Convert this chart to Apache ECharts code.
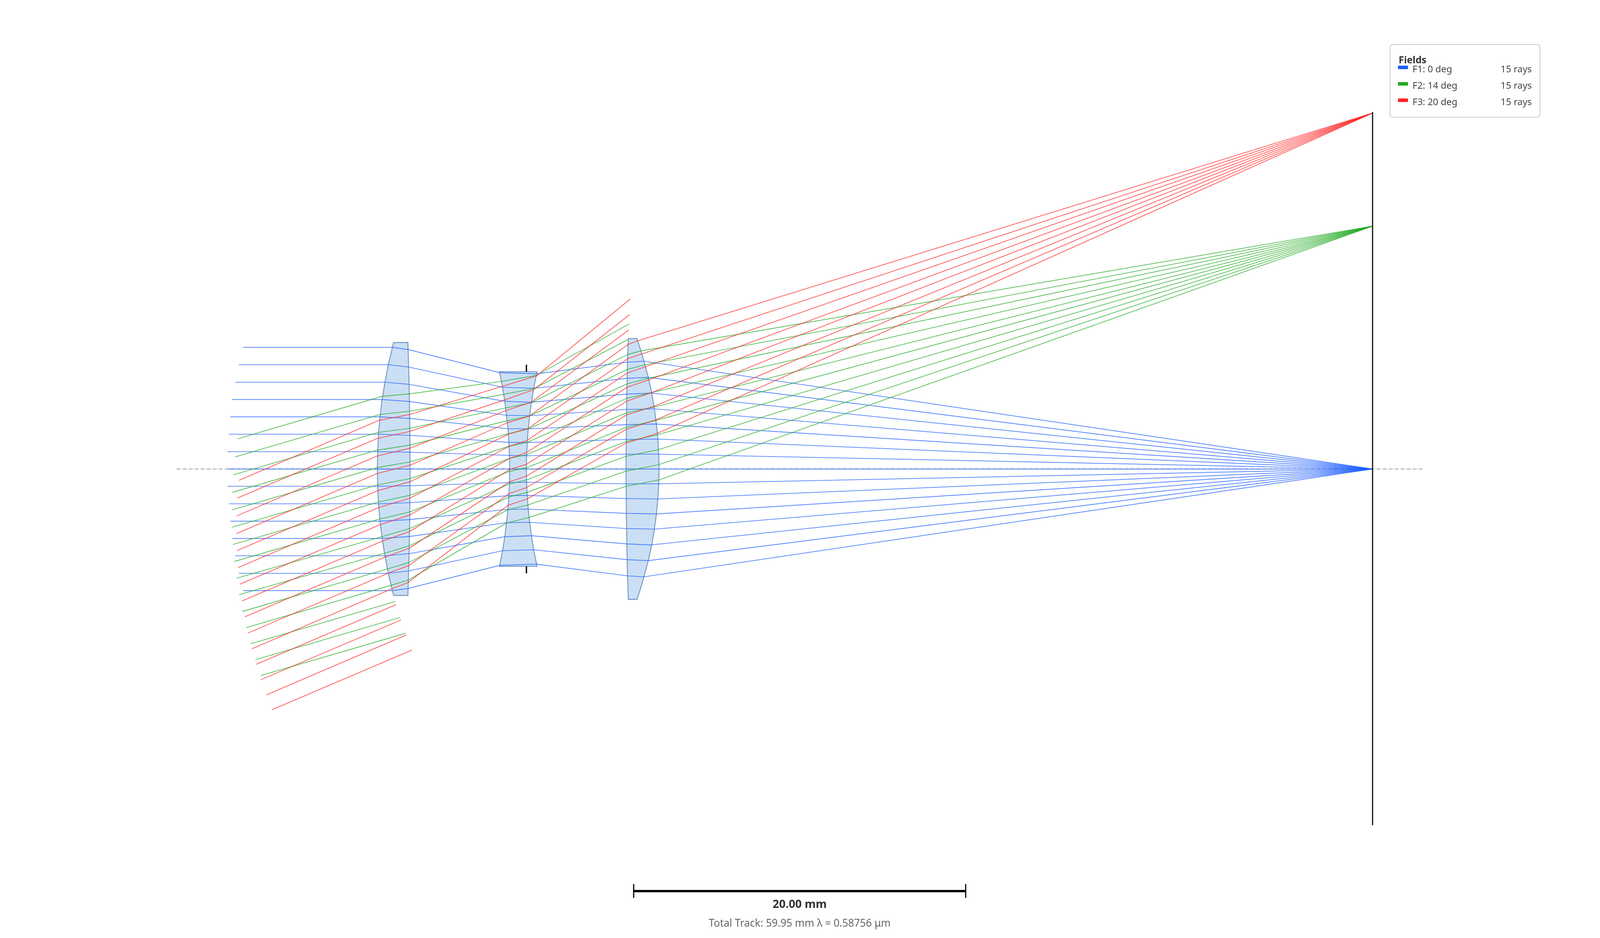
<!DOCTYPE html>
<html>
<head>
<meta charset="utf-8">
<title>Lens layout</title>
<script src="https://cdn.jsdelivr.net/npm/echarts@6/dist/echarts.min.js"></script>
<style>
  html,body{margin:0;padding:0;background:#fff;width:100%;height:100%;overflow:hidden;}
  #chart{width:100%;height:100%;}
</style>
</head>
<body>
<div id="chart"></div>
<script>
// everything in mm, x from the first lens vertex, y from the optical axis
const fieldNames = ['F1: 0 deg', 'F2: 14 deg', 'F3: 20 deg'];
const rayCounts = ['15 rays', '15 rays', '15 rays'];
const scaleLabel = '20.00 mm';
const footerLabel = 'Total Track: 59.95 mm λ = 0.58756 μm';

const blueImage = [59.95, 0];
const greenImage = [59.95, 12.48];
const redImage = [59.95, 18.29];

const lens1 = [[0.98,6.5],[0.91,6.25],[0.66,5.36],[0.46,4.46],[0.29,3.57],[0.16,2.68],[0.07,1.79],[0.02,0.89],[0,0],
  [0.02,-0.89],[0.07,-1.79],[0.16,-2.68],[0.29,-3.57],[0.46,-4.46],[0.66,-5.36],[0.91,-6.25],[0.98,-6.5],
  [1.84,-6.5],[1.88,-5.36],[1.91,-4.46],[1.93,-3.57],[1.95,-2.68],[1.96,-1.79],[1.97,0],
  [1.96,1.79],[1.95,2.68],[1.93,3.57],[1.91,4.46],[1.88,5.36],[1.84,6.5]];
const lens2 = [[7.36,5],[7.54,4.2],[7.68,3.48],[7.78,2.76],[7.87,2.07],[7.92,1.37],[7.96,0.68],[7.97,0],
  [7.96,-0.68],[7.92,-1.37],[7.87,-2.07],[7.78,-2.76],[7.68,-3.48],[7.54,-4.2],[7.36,-5],
  [9.62,-5],[9.43,-4.2],[9.29,-3.48],[9.18,-2.76],[9.09,-2.07],[9.03,-1.37],[8.99,-0.68],[8.98,0],
  [8.99,0.68],[9.03,1.37],[9.09,2.07],[9.18,2.76],[9.29,3.48],[9.43,4.2],[9.62,5]];
const lens3 = [[15.12,6.7],[15.07,5.5],[15.03,3.85],[15.0,2.28],[14.98,0],[15.0,-2.28],[15.03,-3.85],[15.07,-5.5],[15.12,-6.7],
  [15.64,-6.7],[15.88,-6.07],[16.06,-5.54],[16.32,-4.71],[16.53,-3.9],[16.69,-3.09],[16.81,-2.31],[16.9,-1.54],[16.95,-0.76],[16.97,0],
  [16.95,0.76],[16.9,1.54],[16.81,2.31],[16.69,3.09],[16.53,3.9],[16.32,4.71],[16.06,5.54],[15.88,6.07],[15.64,6.7]];

const opticalAxis = [[-12.09,0],[62.97,0]];
const imagePlane = [[59.95,18.34],[59.95,-18.3]];
const stopTop = [[8.98,5],[8.98,5.36]];
const stopBottom = [[8.98,-5],[8.98,-5.36]];
const scaleBar = [[15.44,-21.69],[35.44,-21.69]];
const scaleCapLeft = [[15.44,-21.33],[15.44,-22.04]];
const scaleCapRight = [[35.44,-21.33],[35.44,-22.04]];

const blueRays = [
  [[-8.08,6.25],[0.92,6.25],[1.85,6.14],[7.37,4.95],[9.58,4.89],[15.07,5.49],[16.06,5.54],blueImage],
  [[-8.34,5.36],[0.66,5.36],[1.88,5.24],[7.54,4.2],[9.43,4.15],[15.05,4.66],[16.32,4.71],blueImage],
  [[-8.56,4.46],[0.46,4.46],[1.91,4.35],[7.68,3.48],[9.29,3.43],[15.03,3.85],[16.53,3.9],blueImage],
  [[-8.74,3.57],[0.29,3.57],[1.93,3.47],[7.78,2.76],[9.17,2.74],[15.01,3.06],[16.69,3.09],blueImage],
  [[-8.86,2.68],[0.16,2.68],[1.95,2.6],[7.87,2.07],[9.09,2.06],[15.0,2.28],[16.81,2.31],blueImage],
  [[-8.95,1.79],[0.07,1.79],[1.96,1.73],[7.92,1.37],[9.03,1.36],[14.99,1.52],[16.9,1.54],blueImage],
  [[-9.02,0.89],[0.02,0.89],[1.97,0.86],[7.96,0.7],[8.99,0.68],[14.98,0.76],[16.95,0.76],blueImage],
  [[-9.02,0],blueImage],
  [[-9.02,-0.89],[0.02,-0.89],[1.97,-0.86],[7.96,-0.7],[8.99,-0.68],[14.98,-0.76],[16.95,-0.76],blueImage],
  [[-8.95,-1.79],[0.07,-1.79],[1.96,-1.73],[7.92,-1.37],[9.03,-1.36],[14.99,-1.52],[16.9,-1.54],blueImage],
  [[-8.86,-2.68],[0.16,-2.68],[1.95,-2.6],[7.87,-2.07],[9.09,-2.06],[15.0,-2.28],[16.81,-2.31],blueImage],
  [[-8.74,-3.57],[0.29,-3.57],[1.93,-3.47],[7.78,-2.76],[9.17,-2.74],[15.01,-3.06],[16.69,-3.09],blueImage],
  [[-8.56,-4.46],[0.46,-4.46],[1.91,-4.35],[7.68,-3.48],[9.29,-3.43],[15.03,-3.85],[16.53,-3.9],blueImage],
  [[-8.34,-5.36],[0.66,-5.36],[1.88,-5.24],[7.54,-4.2],[9.43,-4.15],[15.05,-4.66],[16.32,-4.71],blueImage],
  [[-8.08,-6.25],[0.92,-6.25],[1.85,-6.14],[7.37,-4.95],[9.58,-4.89],[15.07,-5.49],[16.06,-5.54],blueImage]
];

const greenRays = [
  [[-8.42,1.55],[0.27,3.73],[1.95,3.86],[7.48,4.5],[9.58,4.81],[15.17,7.45]],
  [[-8.57,0.62],[0.14,2.8],[1.96,2.97],[7.52,3.82],[9.45,4.14],[15.12,6.66]],
  [[-8.67,-0.3],[0.05,1.88],[1.96,2.09],[7.68,3.13],[9.29,3.41],[15.09,5.89],[15.88,6.07],greenImage],
  [[-8.73,-1.2],[0,0.97],[1.98,1.23],[7.81,2.48],[9.16,2.72],[15.07,5.12],[16.12,5.36],greenImage],
  [[-8.76,-2.1],[0,0.07],[1.98,0.37],[7.87,1.81],[9.09,2.05],[15.04,4.37],[16.35,4.67],greenImage],
  [[-8.74,-2.99],[0,-0.82],[1.98,-0.49],[7.93,1.17],[9.02,1.37],[15.02,3.63],[16.53,3.93],greenImage],
  [[-8.69,-3.88],[0.05,-1.7],[1.97,-1.35],[7.95,0.54],[9.0,0.74],[15.01,2.89],[16.66,3.18],greenImage],
  [[-8.6,-4.75],[0.15,-2.57],[1.97,-2.2],[7.96,-0.12],[9.0,0.07],[14.99,2.14],[16.79,2.5],greenImage],
  [[-8.48,-5.61],[0.3,-3.47],[1.94,-3.06],[7.95,-0.77],[9.0,-0.56],[14.97,1.41],[16.89,1.76],greenImage],
  [[-8.33,-6.46],[0.47,-4.32],[1.92,-3.95],[7.92,-1.44],[9.02,-1.2],[14.97,0.65],[16.96,1.0],greenImage],
  [[-8.13,-7.32],[0.67,-5.12],[1.9,-4.81],[7.86,-2.09],[9.07,-1.85],[14.98,-0.11],[16.97,0.23],greenImage],
  [[-7.9,-8.15],[0.97,-5.94],[1.87,-5.7],[7.77,-2.78],[9.15,-2.49],[14.98,-0.89],[16.97,-0.56],greenImage],
  [[-7.63,-8.98],[1.08,-6.81]],
  [[-7.34,-9.8],[1.37,-7.63]],
  [[-7.01,-10.61],[1.71,-8.44]]
];

const redRays = [
  [[-8.33,-0.58],[0.09,2.5],[1.94,2.8],[7.5,4.24],[9.6,4.79],[15.23,8.73]],
  [[-8.42,-1.49],[0,1.57],[1.95,1.93],[7.67,3.55],[9.43,4.08],[15.19,7.93]],
  [[-8.47,-2.41],[0,0.67],[1.97,1.07],[7.81,3.02],[9.26,3.43],[15.15,7.15]],
  [[-8.49,-3.32],[0,-0.23],[1.98,0.2],[7.85,2.38],[9.16,2.72],[15.12,6.41],[15.66,6.58],redImage],
  [[-8.45,-4.19],[0,-1.12],[1.98,-0.65],[7.9,1.79],[9.09,2.09],[15.09,5.67],[15.97,5.92],redImage],
  [[-8.39,-5.07],[0.05,-1.99],[1.96,-1.5],[7.96,1.17],[9.02,1.47],[15.05,4.93],[16.16,5.26],redImage],
  [[-8.29,-5.92],[0.14,-2.87],[1.96,-2.36],[7.95,0.54],[9.0,0.85],[15.04,4.2],[16.36,4.58],redImage],
  [[-8.15,-6.78],[0.3,-3.71],[1.95,-3.21],[7.96,-0.03],[9.0,0.25],[15.01,3.48],[16.56,3.94],redImage],
  [[-7.99,-7.6],[0.45,-4.53],[1.93,-4.07],[7.95,-0.66],[9.0,-0.36],[14.99,2.77],[16.68,3.23],redImage],
  [[-7.8,-8.43],[0.61,-5.37],[1.9,-4.96],[7.93,-1.27],[9.0,-0.95],[14.97,2.03],[16.79,2.53],redImage],
  [[-7.56,-9.24],[0.92,-6.14],[1.86,-5.83],[7.87,-1.87],[9.04,-1.53],[14.95,1.32],[16.89,1.84],redImage],
  [[-7.3,-10.04],[1.12,-6.97]],
  [[-7.02,-10.83],[1.42,-7.76]],
  [[-6.69,-11.61],[1.74,-8.53]],
  [[-6.34,-12.37],[2.09,-9.3]]
];

const lensShapes = [lens1, lens2, lens3];
const fieldColors = ['#1f5fff', '#22aa22', '#ff2222'];
const uiFont = '"Noto Sans", "Open Sans", sans-serif';

// the window may not be exactly 4800x2400, panel and text follow it
const dom = document.getElementById('chart');
const kx = dom.clientWidth / 4800;
const ky = dom.clientHeight / 2400;

function lineSeries(data, color, width, opacity, type) {
  return {
    type: 'line',
    data: data,
    silent: true,
    showSymbol: false,
    symbol: 'none',
    animation: false,
    clip: false,
    lineStyle: {color: color, width: width * kx, opacity: opacity, type: type || 'solid', join: 'round', cap: 'butt'}
  };
}

// x and y are the left/right anchor and the text baseline on the 4800x2400 layout
function label(x, baseline, text, size, color, bold, align) {
  let px = size * kx;
  return {
    type: 'text',
    style: {
      x: x * kx,
      y: baseline * ky - px * 0.93,
      text: text,
      fill: color,
      font: (bold ? 'bold ' : '') + px + 'px ' + uiFont,
      textAlign: align || 'left',
      textVerticalAlign: 'top'
    }
  };
}

let series = [];
series.push(lineSeries(opticalAxis, '#b0b0b0', 3, 1, [12 * kx, 6 * kx]));
series.push({
  type: 'custom',
  silent: true,
  animation: false,
  data: lensShapes.map((item, i) => [i]),
  renderItem: function (params, api) {
    let points = lensShapes[params.dataIndex].map(p => api.coord(p));
    return {
      type: 'polygon',
      shape: {points: points},
      style: {fill: '#cbdff4', stroke: '#7d9fc6', lineWidth: 3 * kx}
    };
  }
});
blueRays.forEach(r => series.push(lineSeries(r, fieldColors[0], 2.2, 0.75)));
greenRays.forEach(r => series.push(lineSeries(r, fieldColors[1], 2.2, 0.75)));
redRays.forEach(r => series.push(lineSeries(r, fieldColors[2], 2.2, 0.75)));
series.push(lineSeries(imagePlane, '#111111', 3.5, 1));
series.push(lineSeries(stopTop, '#000000', 4, 1));
series.push(lineSeries(stopBottom, '#000000', 4, 1));
series.push(lineSeries(scaleBar, '#000000', 7, 1));
series.push(lineSeries(scaleCapLeft, '#000000', 3.5, 1));
series.push(lineSeries(scaleCapRight, '#000000', 3.5, 1));

// legend box, same layout as the original panel
let legendChildren = [
  {type: 'rect', shape: {x: 4170 * kx, y: 114 * ky, width: 450 * kx, height: 186 * ky, r: 9 * kx},
    style: {fill: '#ffffff', stroke: '#cccccc', lineWidth: 2.5 * kx}},
  label(4196, 165, 'Fields', 29, '#333333', true)
];
fieldNames.forEach((name, i) => {
  let rowY = 42 * i;
  legendChildren.push({type: 'rect', shape: {x: 4194 * kx, y: (168 + rowY) * ky, width: 30 * kx, height: 9 * ky},
    style: {fill: fieldColors[i]}});
  legendChildren.push(label(4237.5, 188 + rowY, name, 28, '#444444'));
  legendChildren.push(label(4595.5, 188 + rowY, rayCounts[i], 28, '#444444', false, 'right'));
});

let myChart = echarts.init(dom);
myChart.setOption({
  animation: false,
  backgroundColor: '#ffffff',
  grid: {left: 0, right: 0, top: 0, bottom: 0},
  xAxis: {type: 'value', min: -22.73, max: 73.65, show: false},
  yAxis: {type: 'value', min: -24.1, max: 24.1, show: false},
  series: series,
  graphic: [
    {type: 'group', children: legendChildren},
    label(2399, 2327, scaleLabel, 34, '#333333', true, 'center'),
    label(2399, 2375, footerLabel, 31, '#666666', false, 'center')
  ]
});
</script>
</body>
</html>
